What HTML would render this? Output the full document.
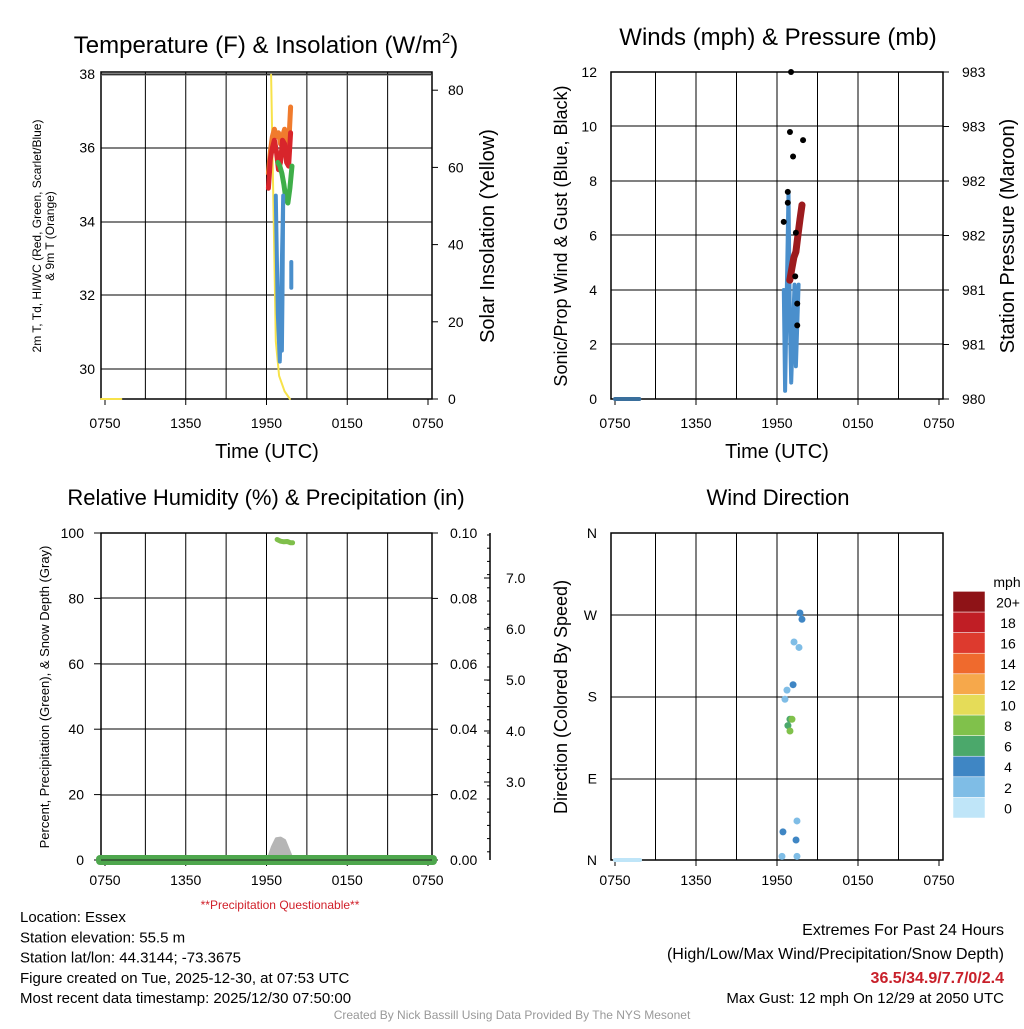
<!DOCTYPE html>
<html><head><meta charset="utf-8"><style>
body{margin:0;background:#fff;}
svg{font-family:"Liberation Sans",sans-serif;}
</style></head><body>
<svg id="c" width="1024" height="1024" viewBox="0 0 1024 1024" xmlns="http://www.w3.org/2000/svg">
<rect width="1024" height="1024" fill="#fff"/>
</svg>
<script>
// ---- data (hours since 07:50 UTC) ----
const xTicks=["0750","1350","1950","0150","0750"];
const tempH=[12.1,12.25,12.4,12.55,12.7,12.85,13.0,13.15,13.3,13.45,13.6,13.75];
const tempRed=[34.9,35.7,36.0,36.2,35.9,35.4,35.6,36.2,36.1,35.6,35.5,36.4];
const tempOrange=[35.3,35.9,36.3,36.5,36.3,36.4,36.1,36.3,36.5,36.2,36.0,37.1];
const greenH=[12.8,12.95,13.1,13.25,13.4,13.55,13.7,13.85];
const tempGreen=[35.6,35.5,35.3,35.0,34.6,34.5,34.9,35.5];
const dewH=[12.65,12.8,12.95,13.05,13.2,13.15,13.1];
const dewBlue=[34.7,31.5,30.2,32.0,34.7,32.0,30.5];
const dew2H=[13.8,13.8];
const dew2=[32.9,32.2];
const solH=[12.3,12.5,12.65,12.9,13.3,13.7];
const solar=[84,45,15,6,2,0];
const solEarlyH=[0,1.5];
const solEarly=[0,0];
const windH=[12.5,12.6,12.85,12.95,13.05,13.3,13.4,13.6];
const windSpd=[4.0,0.3,7.6,3.0,0.6,4.2,1.2,4.2];
const windEarlyH=[0,1.8];
const windEarly=[0,0];
const presH=[12.95,13.1,13.25,13.4,13.55,13.7,13.85];
const pressure=[981.09,981.2,981.3,981.35,981.5,981.65,981.78];
const gustH=[13.04,12.96,13.93,13.19,12.8,12.8,12.5,13.4,13.5,13.35,13.5];
const gust=[12.0,9.8,9.5,8.9,7.6,7.2,6.5,6.1,3.5,4.5,2.7];
const rhH=[12.75,13.0,13.25,13.5,13.75,13.9];
const rh=[98,97.5,97.3,97.4,97,97];
const snowH=[12.07,12.4,12.7,13.0,13.3,13.6,13.9];
const snow=[0,0.004,0.0065,0.0067,0.006,0.003,0];
const dirH=[13.7,13.85,13.26,13.63,13.19,12.74,12.59,12.96,13.11,12.81,12.96,13.48,12.44,13.41,12.37,13.48];
const dirDeg=[272,265,240,234,193,187,177,155,155,148,142,43,31,22,4,4];
const dirSpd=[3,3,2,2,4,2,1,5,7,6,7,1,4,3,2,1];
const cbLabels=["0","2","4","6","8","10","12","14","16","18","20+"];
const cbColors=["#bfe5f8","#7fbde6","#3f86c4","#4ba86b","#80c14b","#e5dc58","#f6a84b","#ef6a2d","#dd3a2e","#c01e25","#8e1317"];

const S=document.getElementById('c');const NS="http://www.w3.org/2000/svg";
function el(t,a,txt){const e=document.createElementNS(NS,t);for(const k in a)e.setAttribute(k,a[k]);if(txt!==undefined)e.textContent=txt;S.appendChild(e);return e;}
function txt(x,y,s,size,anchor,name,extra){const e=el('text',Object.assign({x:x,y:y,'font-size':size,'text-anchor':anchor||'middle',fill:'#000'},extra||{}),s);

return e;}
function line(pts,color,w,name){const e=el('polyline',{points:pts.map(p=>p[0].toFixed(1)+','+p[1].toFixed(1)).join(' '),fill:'none',stroke:color,'stroke-width':w,'stroke-linecap':'round','stroke-linejoin':'round'});

return e;}
function dot(x,y,r,c,name){const e=el('circle',{cx:x,cy:y,r:r,fill:c});

return e;}

function panel(L,R,T,B,hlines,name,lblOff){
  for(let i=1;i<8;i++){const x=L+4+i*(R-L-8)/8;const g=el('line',{x1:x,y1:T,x2:x,y2:B,stroke:'#000','stroke-width':1});
  
  }
  hlines.forEach(y=>{const g=el('line',{x1:L,y1:y,x2:R,y2:y,stroke:'#000','stroke-width':1});
  
  });
  const b=el('rect',{x:L,y:T,width:R-L,height:B-T,fill:'none',stroke:'#000','stroke-width':1.5});
  
  
  xTicks.forEach((t,i)=>{const x=L+4+i*(R-L-8)/4;el('line',{x1:x,y1:B,x2:x,y2:B+6,stroke:'#000'});txt(x,B+lblOff,t,14,'middle',name+'-x-tick');});
}
// ---------- Panel 1 ----------
const p1x=h=>105+h*13.5, p1y=v=>369-(v-30)*36.9, p1s=v=>399-v*3.86;
panel(101,432,72,399,[74,148,222,295,369],'temp-panel',29);
el('line',{x1:101,y1:75,x2:432,y2:75,stroke:'#666','stroke-width':1});
[30,32,34,36,38].forEach(v=>txt(95,p1y(v)+5,String(v),14,'end','temp-y-tick'));
[0,20,40,60,80].forEach(v=>{txt(448,p1s(v)+5,String(v),14,'start','solar-y-tick');el('line',{x1:432,y1:p1s(v),x2:438,y2:p1s(v),stroke:'#000'});});
line(solEarlyH.map((h,i)=>[p1x(h)-4,p1s(solEarly[i])]),'#f7e24a',2,'solar-line-early');
line(solH.map((h,i)=>[p1x(h),p1s(solar[i])]),'#f7e24a',2,'solar-line');
line(tempH.map((h,i)=>[p1x(h),p1y(tempOrange[i])]),'#f07b2d',5,'temp-9m-line');
line(tempH.map((h,i)=>[p1x(h),p1y(tempRed[i])]),'#d8252b',5,'temp-2m-line');
line(greenH.map((h,i)=>[p1x(h),p1y(tempGreen[i])]),'#3fae49',5,'heat-index-line');
line(dewH.map((h,i)=>[p1x(h),p1y(dewBlue[i])]),'#4a8fcc',4,'dewpoint-line');
line(dew2H.map((h,i)=>[p1x(h),p1y(dew2[i])]),'#4a8fcc',4,'dewpoint-line-2');
const tt=txt(266,53,'Temperature (F) & Insolation (W/m',24,'middle','temp-title');
const sup=document.createElementNS(NS,'tspan');sup.setAttribute('font-size',15);sup.setAttribute('dy',-10);sup.textContent='2';tt.appendChild(sup);
const cl=document.createElementNS(NS,'tspan');cl.setAttribute('dy',10);cl.textContent=')';tt.appendChild(cl);
txt(267,458,'Time (UTC)',20,'middle','temp-x-title');
const yl=el('g',{transform:'translate(41,236) rotate(-90)'});
['2m T, Td, HI/WC (Red, Green, Scarlet/Blue)','& 9m T (Orange)'].forEach((s,i)=>{const t=document.createElementNS(NS,'text');t.setAttribute('x',0);t.setAttribute('y',i*13);t.setAttribute('text-anchor','middle');t.setAttribute('font-size',12);t.textContent=s;yl.appendChild(t);});
const st=el('text',{transform:'translate(494,236) rotate(-90)','text-anchor':'middle','font-size':20},'Solar Insolation (Yellow)');

// ---------- Panel 2 ----------
const p2x=h=>615+h*13.5, p2y=v=>399-v*27.25, p2p=v=>399-(v-980)*109;
panel(611,943,72,399,[72,126,181,235,290,344],'wind-panel',29);
[0,2,4,6,8,10,12].forEach(v=>txt(597,p2y(v)+5,String(v),14,'end','wind-y-tick'));
['980','981','981','982','982','983','983'].forEach((t,i)=>{const y=399-i*54.5;txt(962,y+5,t,14,'start','pressure-y-tick');el('line',{x1:943,y1:y,x2:949,y2:y,stroke:'#000'});});
line(windEarlyH.map((h,i)=>[p2x(h),p2y(windEarly[i])]),'#3a6f9c',4,'wind-line-early');
line(windH.map((h,i)=>[p2x(h),p2y(windSpd[i])]),'#4a8fcc',4,'wind-speed-line');
line(presH.map((h,i)=>[p2x(h),p2p(pressure[i])]),'#9c1b1e',7,'pressure-line');
gustH.forEach((h,i)=>dot(p2x(h),p2y(gust[i]),3,'#000','gust-dot'));
txt(778,45,'Winds (mph) & Pressure (mb)',24,'middle','wind-title');
txt(777,458,'Time (UTC)',20,'middle','wind-x-title');
let t2=el('text',{transform:'translate(567,236) rotate(-90)','text-anchor':'middle','font-size':18},'Sonic/Prop Wind & Gust (Blue, Black)');
t2=el('text',{transform:'translate(1014,236) rotate(-90)','text-anchor':'middle','font-size':20},'Station Pressure (Maroon)');

// ---------- Panel 3 ----------
const p3x=h=>105+h*13.5, p3y=v=>860-v*3.27, p3p=v=>860-v*3270;
panel(101,432,533,860,[533,598,664,729,795],'rh-panel',25);
[0,20,40,60,80,100].forEach(v=>{txt(84,p3y(v)+5,String(v),14,'end','rh-y-tick');el('line',{x1:94,y1:p3y(v),x2:101,y2:p3y(v),stroke:'#000'});});
['0.00','0.02','0.04','0.06','0.08','0.10'].forEach((t,i)=>{const y=860-i*65.4;txt(450,y+5,t,14,'start','precip-y-tick');el('line',{x1:432,y1:y,x2:438,y2:y,stroke:'#000'});});
el('line',{x1:490,y1:533,x2:490,y2:860,stroke:'#000','stroke-width':1.5});
['3.0','4.0','5.0','6.0','7.0'].forEach((t,i)=>{const y=782-i*51;txt(506,y+5,t,14,'start','snow-y-tick');el('line',{x1:490,y1:y,x2:484,y2:y,stroke:'#000'});});
for(let i=0;i<25;i++){const y=535+i*13.2;el('line',{x1:490,y1:y,x2:487,y2:y,stroke:'#000'});}
const sp=snowH.map((h,i)=>[p3x(h),p3p(snow[i])]);
const sn=el('path',{d:'M'+sp.map(p=>p[0].toFixed(1)+','+p[1].toFixed(1)).join(' L')+' Z',fill:'#b5b5b5','stroke':'#b5b5b5','stroke-width':3,'stroke-linejoin':'round'});
const pb=el('rect',{x:96,y:855,width:341,height:10,rx:4,fill:'#4ea74d'});
el('line',{x1:101,y1:860,x2:432,y2:860,stroke:'#222','stroke-width':1});
line(rhH.map((h,i)=>[p3x(h),p3y(rh[i])]),'#7fbf4b',5,'rh-line');
txt(266,505,'Relative Humidity (%) & Precipitation (in)',22,'middle','rh-title');
txt(280,909,'**Precipitation Questionable**',12,'middle','precip-warning',{fill:'#d0202a'});
t2=el('text',{transform:'translate(49,697) rotate(-90)','text-anchor':'middle','font-size':13},'Percent, Precipitation (Green), & Snow Depth (Gray)');

// ---------- Panel 4 ----------
const p4x=h=>615+h*13.5, p4y=d=>860-d*0.9083;
panel(611,943,533,860,[533,615,697,779],'dir-panel',25);
['N','E','S','W','N'].forEach((t,i)=>txt(597,860-i*81.75+5,t,14,'end','dir-y-tick'));
line([[615,p4y(0)],[640,p4y(0)]],'#bfe5f8',4,'dir-early-line');
dirH.forEach((h,i)=>dot(p4x(h),p4y(dirDeg[i]),3.5,cbColors[Math.min(10,Math.round(dirSpd[i]/2))],'dir-dot'));
txt(778,505,'Wind Direction',22,'middle','dir-title');
t2=el('text',{transform:'translate(567,697) rotate(-90)','text-anchor':'middle','font-size':18},'Direction (Colored By Speed)');
cbColors.forEach((c,i)=>{const y=818-(i+1)*20.6;const r=el('rect',{x:953,y:y,width:32,height:20.6,fill:c,stroke:'#fff','stroke-width':0.5});


txt(1008,y+16,cbLabels[i],14,'middle','colorbar-label');});
txt(1007,587,'mph',14,'middle','colorbar-title');

// ---------- Footer ----------
['Location: Essex','Station elevation: 55.5 m','Station lat/lon: 44.3144; -73.3675','Figure created on Tue, 2025-12-30, at 07:53 UTC','Most recent data timestamp: 2025/12/30 07:50:00'].forEach((s,i)=>txt(20,922+i*20.3,s,15,'start','station-info-line'));
txt(1004,935,'Extremes For Past 24 Hours',16,'end','extremes-title');
txt(1004,959,'(High/Low/Max Wind/Precipitation/Snow Depth)',16,'end','extremes-subtitle');
txt(1004,983,'36.5/34.9/7.7/0/2.4',16,'end','extremes-values',{fill:'#c8202a','font-weight':'bold'});
txt(1004,1003,'Max Gust: 12 mph On 12/29 at 2050 UTC',15,'end','max-gust');
txt(512,1019,'Created By Nick Bassill Using Data Provided By The NYS Mesonet',12,'middle','credit',{fill:'#999'});
</script>
</body></html>
